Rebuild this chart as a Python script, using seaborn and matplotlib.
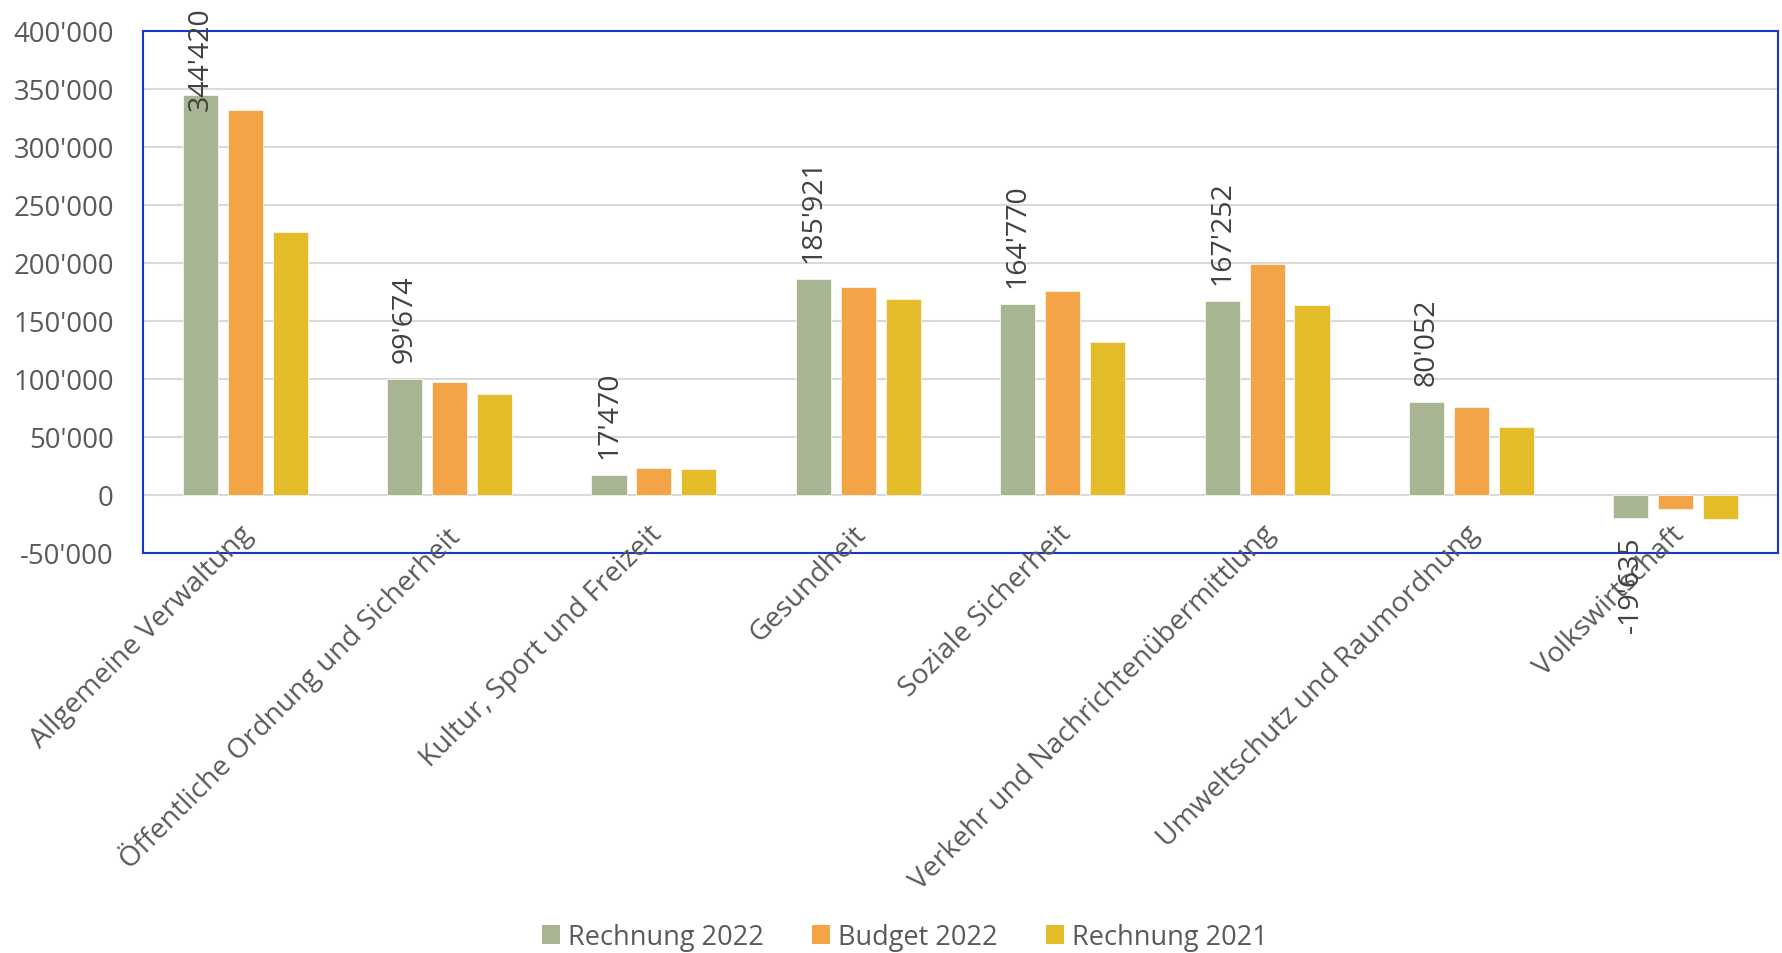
import matplotlib
matplotlib.use("Agg")
import matplotlib.pyplot as plt
import matplotlib.ticker as mticker
from matplotlib.patches import Patch
import seaborn as sns
import pandas as pd

categories = [
    "Allgemeine Verwaltung",
    "Öffentliche Ordnung und Sicherheit",
    "Kultur, Sport und Freizeit",
    "Gesundheit",
    "Soziale Sicherheit",
    "Verkehr und Nachrichtenübermittlung",
    "Umweltschutz und Raumordnung",
    "Volkswirtschaft",
]
series_names = ["Rechnung 2022", "Budget 2022", "Rechnung 2021"]
rechnung_2022 = [344420, 99674, 17470, 185921, 164770, 167252, 80052, -19635]
budget_2022 = [332200, 97700, 23300, 179300, 175800, 199100, 75600, -12100]
rechnung_2021 = [227000, 87100, 22400, 169000, 132200, 164100, 58600, -20700]
colors = ["#A7B592", "#F2A447", "#E4BC2A"]

rows = []
for name, vals in zip(series_names, [rechnung_2022, budget_2022, rechnung_2021]):
    for c, v in zip(categories, vals):
        rows.append({"Kategorie": c, "Wert": v, "Serie": name})
df = pd.DataFrame(rows)

sns.set_theme(style="white")
plt.rcParams["font.family"] = ["Open Sans", "DejaVu Sans"]

W, H, DPI = 1783, 954, 100
fig = plt.figure(figsize=(W / DPI, H / DPI), dpi=DPI)
ax = fig.add_axes([143 / W, 1 - 554 / H, (1778 - 143) / W, (554 - 32) / H])

sns.barplot(data=df, x="Kategorie", y="Wert", hue="Serie", order=categories,
            hue_order=series_names, palette=colors, saturation=1, width=0.66, gap=0.22,
            errorbar=None, ax=ax, legend=False, edgecolor="#F5F5F0", linewidth=0.6,
            zorder=3)

ax.set_xlim(-0.5, len(categories) - 0.5)
ax.set_ylim(-50000, 400000)
ax.yaxis.set_major_locator(mticker.MultipleLocator(50000))
ax.yaxis.set_major_formatter(mticker.FuncFormatter(lambda v, p: f"{int(round(v)):,}".replace(",", "'")))
ax.grid(axis="y", color="#D9D9D9", linewidth=1.5, zorder=0)
ax.grid(axis="x", visible=False)
ax.set_axisbelow(True)
ax.set_xlabel("")
ax.set_ylabel("")
ax.set_xticks(range(len(categories)))
ax.set_xticklabels([])
ax.tick_params(axis="x", length=0)
ax.tick_params(axis="y", length=0, pad=21, labelsize=19.8, labelcolor="#595959")
for s in ax.spines.values():
    s.set_visible(True)
    s.set_color("#1538C8")
    s.set_linewidth(1.5)

# category labels anchored near the zero line
for i, c in enumerate(categories):
    ax.annotate(c, xy=(i, 0), xytext=(-4.3, -17.7), textcoords="offset points",
                rotation=45, ha="right", va="top", rotation_mode="anchor",
                fontsize=20.3, color="#595959", annotation_clip=False, zorder=5)

# data labels on Rechnung 2022
texts = []
for i, v in enumerate(rechnung_2022):
    lab = f"{abs(v):,}".replace(",", "'")
    if v < 0:
        lab = "-" + lab
    x_bar = i - 0.22
    if v >= 0:
        t = ax.annotate(lab, xy=(x_bar, v), xytext=(0, 12.2), textcoords="offset points",
                        rotation=90, ha="center", va="bottom", fontsize=20.5,
                        color="#404040", annotation_clip=False, zorder=6)
    else:
        t = ax.annotate(lab, xy=(x_bar, v), xytext=(0, -13), textcoords="offset points",
                        rotation=90, ha="center", va="top", fontsize=20.5,
                        color="#404040", annotation_clip=False, zorder=6)
    texts.append(t)

fig.canvas.draw()
renderer = fig.canvas.get_renderer()
for t in texts:
    bb = t.get_window_extent(renderer)
    limit = H - 7
    if bb.y1 > limit:
        shift_pt = (bb.y1 - limit) * 72 / DPI
        t.xyann = (t.xyann[0], t.xyann[1] - shift_pt)

handles = [Patch(facecolor=col, edgecolor="none") for col in colors]
fig.legend(handles, series_names, loc="center", bbox_to_anchor=(905 / W, 1 - 938 / H),
           ncol=3, frameon=False, fontsize=19.5, handlelength=0.65, handleheight=0.65,
           handletextpad=0.3, columnspacing=1.8, labelcolor="#595959")

fig.savefig("out.png", dpi=DPI)
